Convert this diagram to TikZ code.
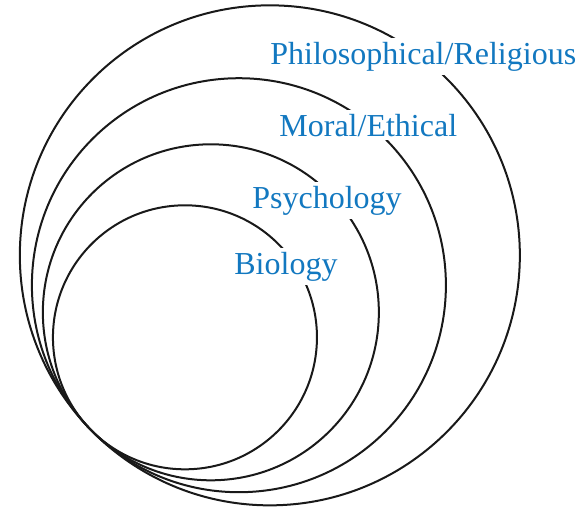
\documentclass[tikz,border=0pt]{standalone}
\usepackage{fontspec}
\setmainfont{Liberation Serif}
\definecolor{layerblue}{RGB}{18,120,192}

\begin{document}
\begin{tikzpicture}[x=0.5pt,y=-0.5pt]

    \tikzset{
      ring/.style={
        line width=1pt,
        draw=black!90,
      },
      layer/.style={
        text=layerblue,
        fill=white,
        anchor=base west,
        inner sep=2pt,
        font=\fontsize{16}{19}\selectfont,
      },
    }
    \useasboundingbox (0,0) rectangle (578,509);
    % all rings touch at one point, lower left
    \coordinate (touch) at (90,429);
    \foreach \r in {250,207,168,132}
	\draw[ring] (touch) ++(-44:\r) circle[radius=\r];

	\node[layer] (philo) at (266,64) {Philosophical/Religious};
	\node[layer] (moral) at (275,136) {Moral/Ethical};
	\node[layer] (psych) at (248,208) {Psychology};
	\node[layer] (bio) at (230,274) {Biology};

\end{tikzpicture}
\end{document}
